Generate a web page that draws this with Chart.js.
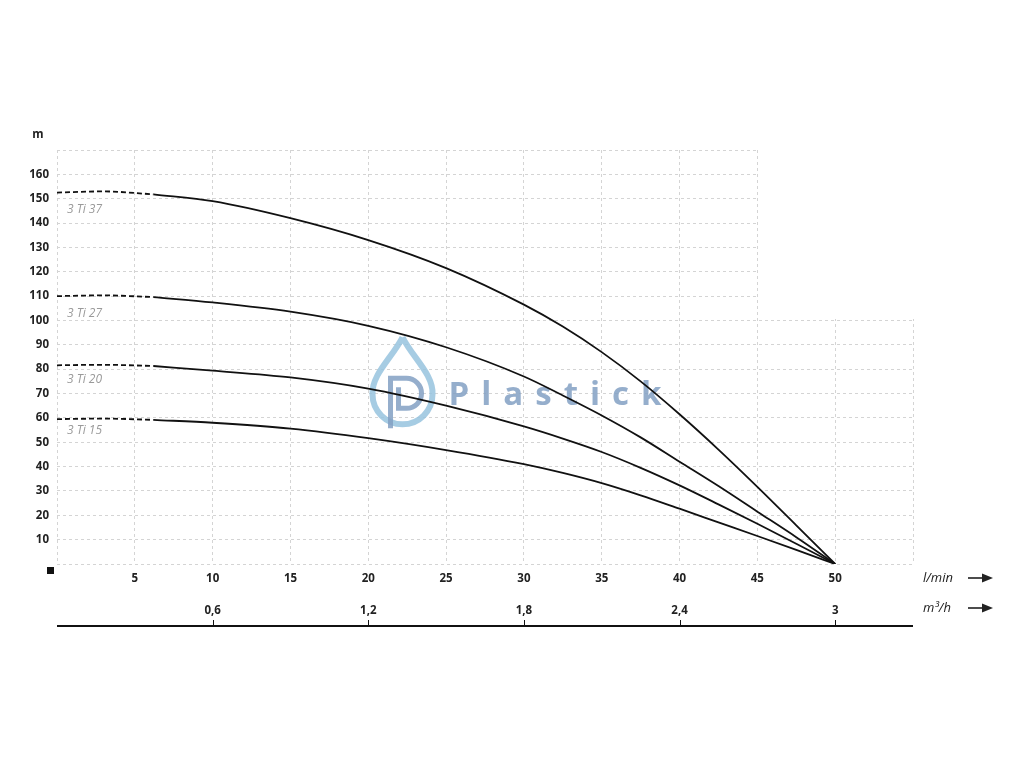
<!DOCTYPE html>
<html lang="en">
<head>
  <meta charset="UTF-8" />
  <title>3 Ti pump curves</title>
  <style>
    body {
      margin: 0;
      background: white;
    }
    canvas {
      display: block;
    }
  </style>
</head>
<body>
  <canvas id="pumpChart" width="1024" height="768"></canvas>

  <script src="https://cdn.jsdelivr.net/npm/chart.js"></script>
  <script>
    // flow in l/min, head in m
    const pumpNames = ['3 Ti 37', '3 Ti 27', '3 Ti 20', '3 Ti 15'];

    const dashFlow = [0, 3, 6.2];
    const dashHeads = [
      [152.5, 153, 151.8],
      [110, 110.3, 109.6],
      [81.6, 81.8, 81.3],
      [59.5, 59.7, 59.2]
    ];

    const flow = [6.2, 10, 15, 20, 25, 30, 32.5, 35, 37.5, 40, 42.5, 45, 47.5, 50];
    const head37 = [151.8, 149, 142, 133, 121.5, 106.5, 97.5, 87, 75, 61.5, 47, 31.7, 15.9, 0];
    const head27 = [109.6, 107.4, 103.6, 97.8, 89, 77, 69.2, 61, 52, 42, 32, 21.5, 11, 0];
    const head20 = [81.3, 79.4, 76.6, 72, 65, 56.5, 51.5, 46, 39.5, 32.3, 24.5, 16.5, 8.3, 0];
    const head15 = [59.2, 58, 55.6, 51.7, 46.8, 41, 37.4, 33.2, 28.2, 22.7, 17.1, 11.5, 5.8, 0];
    const heads = [head37, head27, head20, head15];

    // curve name labels (flow, head)
    const nameFlow = 0.64;
    const nameHeads = [145.4, 103, 75.7, 54.9];

    // second axis: m3/h
    const m3hTicks = [10, 20, 30, 40, 50];
    const m3hLabels = ['0,6', '1,2', '1,8', '2,4', '3'];

    const tickFont = { family: 'Open Sans', size: 11.5, weight: '700' };

    const datasets = [];
    pumpNames.forEach((name, i) => {
      datasets.push({
        label: name + ' (shut-off)',
        data: dashFlow.map((f, j) => ({ x: f, y: dashHeads[i][j] })),
        borderColor: '#111',
        borderWidth: 1.8,
        borderDash: [5, 3],
        pointRadius: 0,
        cubicInterpolationMode: 'monotone'
      });
      datasets.push({
        label: name,
        data: flow.map((f, j) => ({ x: f, y: heads[i][j] })),
        borderColor: '#111',
        borderWidth: 1.8,
        pointRadius: 0,
        cubicInterpolationMode: 'monotone'
      });
    });

    function arrow(ctx, x1, x2, y) {
      ctx.beginPath();
      ctx.moveTo(x1, y);
      ctx.lineTo(x2 - 8, y);
      ctx.stroke();
      ctx.beginPath();
      ctx.moveTo(x2, y);
      ctx.lineTo(x2 - 11, y - 4.5);
      ctx.lineTo(x2 - 11, y + 4.5);
      ctx.closePath();
      ctx.fill();
    }

    const decor = {
      id: 'decor',
      beforeDatasetsDraw(chart) {
        const { ctx, scales } = chart;
        const x = scales.x, y = scales.y;
        ctx.save();
        // grid is L-shaped: nothing right of 45 l/min above 100 m
        ctx.fillStyle = 'white';
        const left = Math.round(x.getPixelForValue(45)) + 1;
        const top = Math.round(y.getPixelForValue(170)) - 2;
        const bottom = Math.round(y.getPixelForValue(100)) - 1;
        ctx.fillRect(left, top, x.right + 4 - left, bottom - top);

        // watermark
        const cx = x.getPixelForValue(22.2);
        const cy = y.getPixelForValue(70.5);
        ctx.lineWidth = 6;
        ctx.strokeStyle = 'rgba(150,195,222,0.85)';
        ctx.beginPath();
        ctx.moveTo(cx, cy - 55);
        ctx.bezierCurveTo(cx + 10, cy - 35, cx + 31, cy - 18, cx + 30, cy + 2);
        ctx.arc(cx, cy + 2, 30, 0, Math.PI, false);
        ctx.bezierCurveTo(cx - 31, cy - 18, cx - 10, cy - 35, cx, cy - 55);
        ctx.stroke();
        ctx.strokeStyle = 'rgba(130,160,195,0.85)';
        ctx.lineWidth = 5;
        ctx.beginPath();
        ctx.moveTo(cx - 12, cy + 36);
        ctx.lineTo(cx - 12, cy - 14);
        ctx.lineTo(cx + 4, cy - 14);
        ctx.arc(cx + 4, cy + 1, 15, -Math.PI / 2, Math.PI / 2, false);
        ctx.lineTo(cx - 4, cy + 16);
        ctx.lineTo(cx - 4, cy - 5);
        ctx.stroke();

        ctx.fillStyle = 'rgba(130,160,195,0.85)';
        ctx.font = 'bold 33px "Open Sans"';
        ctx.textBaseline = 'alphabetic';
        let tx = cx + 46;
        for (const ch of 'Plastick') {
          ctx.fillText(ch, tx, cy + 13);
          tx += ctx.measureText(ch).width + 12;
        }
        ctx.restore();
      },
      afterDatasetsDraw(chart) {
        const { ctx, scales } = chart;
        ctx.save();
        ctx.fillStyle = '#9a9a9a';
        ctx.font = 'italic 12px "Open Sans"';
        ctx.textBaseline = 'middle';
        pumpNames.forEach((name, i) => {
          ctx.fillText(name, scales.x.getPixelForValue(nameFlow), scales.y.getPixelForValue(nameHeads[i]));
        });
        ctx.restore();
      },
      afterDraw(chart) {
        const { ctx, scales, chartArea } = chart;
        const x2 = scales.x2;
        ctx.save();
        ctx.fillStyle = '#222';
        ctx.strokeStyle = '#111';
        ctx.font = '700 11.5px "Open Sans"';
        ctx.textBaseline = 'middle';
        ctx.textAlign = 'center';
        ctx.fillText('m', chartArea.left - 19, chartArea.top - 15);

        // origin marker
        ctx.fillStyle = '#111';
        ctx.fillRect(chartArea.left - 10, chartArea.bottom + 3, 7, 7);

        // units with arrows
        ctx.font = 'italic 13px "Open Sans"';
        ctx.textAlign = 'left';
        ctx.fillStyle = '#222';
        const y1 = chartArea.bottom + 14;
        const y2 = chartArea.bottom + 44;
        ctx.fillText('l/min', chartArea.right + 10, y1);
        ctx.fillText('m\u00B3/h', chartArea.right + 10, y2);
        ctx.lineWidth = 1.5;
        arrow(ctx, chartArea.right + 55, chartArea.right + 80, y1);
        arrow(ctx, chartArea.right + 55, chartArea.right + 80, y2);

        // bottom rule with small ticks
        const ly = chartArea.bottom + 62;
        ctx.lineWidth = 2;
        ctx.beginPath();
        ctx.moveTo(chartArea.left, ly);
        ctx.lineTo(chartArea.right, ly);
        ctx.stroke();
        ctx.lineWidth = 1;
        m3hTicks.forEach(v => {
          const px = Math.round(x2.getPixelForValue(v)) + 0.5;
          ctx.beginPath();
          ctx.moveTo(px, ly);
          ctx.lineTo(px, ly - 6);
          ctx.stroke();
        });
        ctx.restore();
      }
    };

    new Chart(document.getElementById('pumpChart'), {
      type: 'line',
      data: { datasets: datasets },
      options: {
        responsive: false,
        animation: false,
        layout: { padding: { top: 150, left: 0, right: 111, bottom: 138 } },
        plugins: {
          legend: { display: false },
          tooltip: { enabled: false }
        },
        scales: {
          x: {
            type: 'linear',
            min: 0,
            max: 55,
            position: 'bottom',
            afterFit: s => { s.height = 26; },
            ticks: {
              stepSize: 5,
              color: '#222',
              font: tickFont,
              padding: 8,
              maxRotation: 0,
              callback: v => (v === 0 || v === 55) ? '' : v
            },
            grid: { color: '#d4d4d4', drawTicks: false, lineWidth: 1 },
            border: { display: false, dash: [3, 3] }
          },
          x2: {
            type: 'linear',
            min: 0,
            max: 55,
            position: 'bottom',
            afterFit: s => { s.height = 40; },
            afterBuildTicks: s => { s.ticks = m3hTicks.map(v => ({ value: v })); },
            ticks: {
              color: '#222',
              font: tickFont,
              padding: 14,
              maxRotation: 0,
              autoSkip: false,
              callback: v => m3hLabels[m3hTicks.indexOf(v)]
            },
            grid: { display: false, drawTicks: false },
            border: { display: false }
          },
          y: {
            min: 0,
            max: 170,
            afterFit: s => { s.width = 57; },
            ticks: {
              stepSize: 10,
              color: '#222',
              font: tickFont,
              padding: 8,
              callback: v => (v === 0 || v === 170) ? '' : v
            },
            grid: { color: '#d4d4d4', drawTicks: false, lineWidth: 1 },
            border: { display: false, dash: [3, 3] }
          }
        }
      },
      plugins: [decor]
    });
  </script>
</body>
</html>
